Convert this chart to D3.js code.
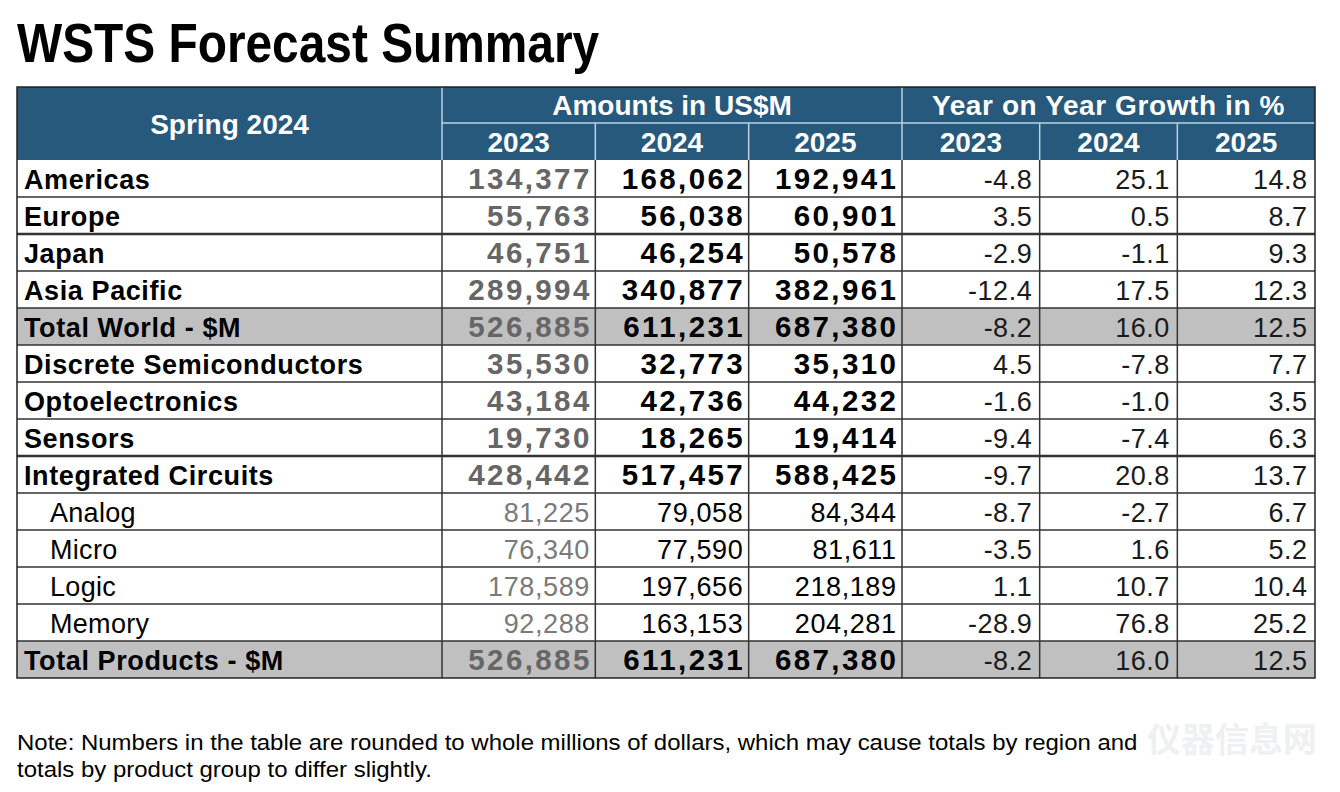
<!DOCTYPE html>
<html>
<head>
<meta charset="utf-8">
<script src="https://cdn.jsdelivr.net/npm/d3@7"></script>
<style>
  html, body { margin: 0; padding: 0; background: #ffffff; }
  svg { display: block; font-family: "Liberation Sans", Arial, Helvetica, sans-serif; }
</style>
</head>
<body>
<svg id="chart" width="1340" height="792"></svg>
<script>
// ---------------- DATA ----------------
const chartTitle = "WSTS Forecast Summary";
const cornerLabel = "Spring 2024";
const groupLabels = ["Amounts in US$M", "Year on Year Growth in %"];
const amountYears = ["2023", "2024", "2025"];
const growthYears = ["2023", "2024", "2025"];

const rowLabels = ["Americas", "Europe", "Japan", "Asia Pacific", "Total World - $M",
  "Discrete Semiconductors", "Optoelectronics", "Sensors", "Integrated Circuits",
  "Analog", "Micro", "Logic", "Memory", "Total Products - $M"];
const rowKinds = ["main", "main", "main", "main", "total",
  "main", "main", "main", "main",
  "sub", "sub", "sub", "sub", "total"];

const amounts2023 = [134377, 55763, 46751, 289994, 526885, 35530, 43184, 19730, 428442, 81225, 76340, 178589, 92288, 526885];
const amounts2024 = [168062, 56038, 46254, 340877, 611231, 32773, 42736, 18265, 517457, 79058, 77590, 197656, 163153, 611231];
const amounts2025 = [192941, 60901, 50578, 382961, 687380, 35310, 44232, 19414, 588425, 84344, 81611, 218189, 204281, 687380];

const growth2023 = [-4.8, 3.5, -2.9, -12.4, -8.2, 4.5, -1.6, -9.4, -9.7, -8.7, -3.5, 1.1, -28.9, -8.2];
const growth2024 = [25.1, 0.5, -1.1, 17.5, 16.0, -7.8, -1.0, -7.4, 20.8, -2.7, 1.6, 10.7, 76.8, 16.0];
const growth2025 = [14.8, 8.7, 9.3, 12.3, 12.5, 7.7, 3.5, 6.3, 13.7, 6.7, 5.2, 10.4, 25.2, 12.5];

const noteLines = [
  "Note: Numbers in the table are rounded to whole millions of dollars, which may cause totals by region and",
  "totals by product group to differ slightly."
];
const watermark = "仪器信息网";

// ---------------- LAYOUT ----------------
const svg = d3.select("#chart");
const left = 17, labelRight = 442, amountsRight = 902, right = 1315;
const headTop = 87, headMid = 123, headBottom = 160, tableBottom = 678;

const headerBg = "#27597d";
const headerLine = "#b9d3e6";
const gridColor = "#333333";
const totalBg = "#c0c0c0";

const amountSeries = [amounts2023, amounts2024, amounts2025];
const growthSeries = [growth2023, growth2024, growth2025];

const yRow = d3.scaleBand().domain(d3.range(rowLabels.length)).range([headBottom, tableBottom]).padding(0);
const xAmt = d3.scaleBand().domain(amountYears).range([labelRight, amountsRight]).padding(0);
const xGro = d3.scaleBand().domain(growthYears).range([amountsRight, right]).padding(0);

const loc = d3.formatLocale({ decimal: ".", thousands: ",", grouping: [3], currency: ["$", ""], minus: "-" });
const fmtAmt = loc.format(",");
const fmtGro = loc.format(".1f");

// Title
svg.append("text")
  .attr("transform", `translate(${left},62) scale(0.87,1)`)
  .attr("font-size", 55).attr("font-weight", "bold").attr("fill", "#000")
  .text(chartTitle);

// Header background
svg.append("rect").attr("x", left).attr("y", headTop)
  .attr("width", right - left).attr("height", headBottom - headTop)
  .attr("fill", headerBg);

// Row backgrounds
const rows = svg.append("g");
rows.selectAll("rect").data(rowLabels).join("rect")
  .attr("x", left).attr("y", (d, i) => yRow(i))
  .attr("width", right - left).attr("height", yRow.bandwidth())
  .attr("fill", (d, i) => rowKinds[i] === "total" ? totalBg : "#ffffff");

// Header inner lines
const hl = svg.append("g").attr("stroke", headerLine).attr("stroke-width", 1.5);
hl.append("line").attr("x1", labelRight).attr("x2", right).attr("y1", headMid).attr("y2", headMid);
hl.append("line").attr("x1", labelRight).attr("x2", labelRight).attr("y1", headTop).attr("y2", headBottom);
hl.append("line").attr("x1", amountsRight).attr("x2", amountsRight).attr("y1", headTop).attr("y2", headBottom);
[xAmt, xGro].forEach(sc => {
  sc.domain().slice(1).forEach(k => {
    hl.append("line").attr("x1", sc(k)).attr("x2", sc(k)).attr("y1", headMid).attr("y2", headBottom);
  });
});

// Header text
const ht = svg.append("g").attr("fill", "#ffffff").attr("font-weight", "bold").attr("font-size", 28).attr("text-anchor", "middle");
ht.append("text").attr("x", (left + labelRight) / 2).attr("y", (headTop + headBottom) / 2 + 10).text(cornerLabel);
ht.append("text").attr("x", (labelRight + amountsRight) / 2).attr("y", headMid - 8).text(groupLabels[0]);
ht.append("text").attr("x", (amountsRight + right) / 2).attr("y", headMid - 8)
  .attr("letter-spacing", 0.6).text(groupLabels[1]);
amountYears.forEach(k => ht.append("text").attr("x", xAmt(k) + xAmt.bandwidth() / 2).attr("y", headBottom - 8).text(k));
growthYears.forEach(k => ht.append("text").attr("x", xGro(k) + xGro.bandwidth() / 2).attr("y", headBottom - 8).text(k));

// Grid lines
const grid = svg.append("g").attr("stroke", gridColor);
rowLabels.forEach((d, i) => {
  if (i === 0) return;
  const thick = (rowLabels[i - 1] === "Europe" || rowLabels[i - 1] === "Sensors");
  grid.append("line").attr("x1", left).attr("x2", right)
    .attr("y1", yRow(i)).attr("y2", yRow(i)).attr("stroke-width", thick ? 2.5 : 1.5);
});
const vlines = [labelRight].concat(amountYears.slice(1).map(k => xAmt(k)), [amountsRight], growthYears.slice(1).map(k => xGro(k)));
vlines.forEach(x => grid.append("line").attr("x1", x).attr("x2", x)
  .attr("y1", headBottom).attr("y2", tableBottom).attr("stroke-width", 1.5));
// outer border
svg.append("rect").attr("x", left).attr("y", headTop)
  .attr("width", right - left).attr("height", tableBottom - headTop)
  .attr("fill", "none").attr("stroke", "#222").attr("stroke-width", 1.5);

// Row labels
const lab = svg.append("g").attr("fill", "#000");
lab.selectAll("text").data(rowLabels).join("text")
  .attr("x", (d, i) => rowKinds[i] === "sub" ? 50 : 24)
  .attr("y", (d, i) => yRow(i) + yRow.bandwidth() / 2 + 10)
  .attr("font-size", (d, i) => rowKinds[i] === "sub" ? 27 : 27)
  .attr("letter-spacing", (d, i) => rowKinds[i] === "sub" ? 0.3 : 0.6)
  .attr("font-weight", (d, i) => rowKinds[i] === "sub" ? "normal" : "bold")
  .text(d => d);

// Amounts
const amtG = svg.append("g").attr("text-anchor", "end");
amountSeries.forEach((series, j) => {
  const key = amountYears[j];
  amtG.append("g").selectAll("text").data(series).join("text")
    .attr("x", (d, i) => xAmt(key) + xAmt.bandwidth() - 6 + (rowKinds[i] === "sub" ? 0.6 : 2.4))
    .attr("y", (d, i) => yRow(i) + yRow.bandwidth() / 2 + 10.5)
    .attr("font-size", (d, i) => rowKinds[i] === "sub" ? 27 : 29.5)
    .attr("letter-spacing", (d, i) => rowKinds[i] === "sub" ? 0.6 : 2.4)
    .attr("font-weight", (d, i) => rowKinds[i] === "sub" ? "normal" : "bold")
    .attr("fill", (d, i) => j === 0 ? (rowKinds[i] === "sub" ? "#7a7a7a" : "#666666") : "#000")
    .text(d => fmtAmt(d));
});

// Growth
const groG = svg.append("g").attr("text-anchor", "end").attr("font-size", 27).attr("fill", "#1a1a1a");
growthSeries.forEach((series, j) => {
  const key = growthYears[j];
  groG.append("g").selectAll("text").data(series).join("text")
    .attr("x", xGro(key) + xGro.bandwidth() - 7.5)
    .attr("y", (d, i) => yRow(i) + yRow.bandwidth() / 2 + 10)
    .attr("letter-spacing", 0.5)
    .text(d => fmtGro(d));
});

// Note
svg.append("g").selectAll("text").data(noteLines).join("text")
  .attr("transform", (d, i) => `translate(${left},${750 + i * 27}) scale(1.09,1)`)
  .attr("font-size", 22).attr("fill", "#000")
  .text(d => d);

// Watermark
svg.append("text").attr("x", 1232).attr("y", 752)
  .attr("font-family", "Noto Sans CJK SC").attr("font-size", 34).attr("font-weight", "bold")
  .attr("fill", "#eef0f2").attr("text-anchor", "middle")
  .text(watermark);
</script>
</body>
</html>
